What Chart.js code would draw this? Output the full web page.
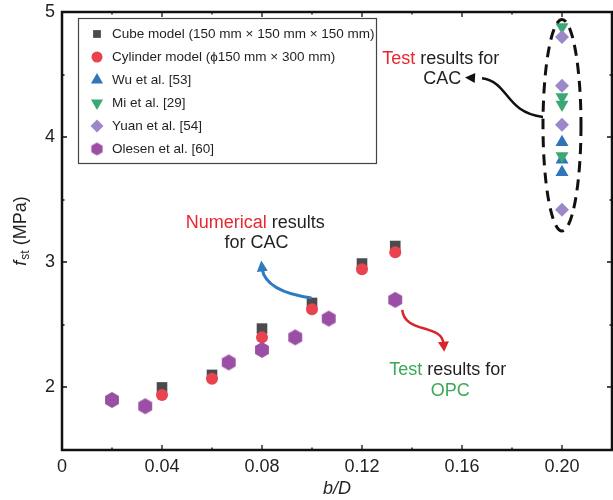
<!DOCTYPE html>
<html><head><meta charset="utf-8">
<script src="https://cdn.jsdelivr.net/npm/chart.js@4/dist/chart.umd.min.js"></script>
<style>html,body{margin:0;padding:0;background:#fff;overflow:hidden}#wrap{width:613px;height:500px;}canvas{display:block}</style>
</head><body><div id="wrap"><canvas id="c" width="613" height="500"></canvas></div>
<script>
// ---- data ----
const cubeX = [0.04, 0.06, 0.08, 0.10, 0.12, 0.1333];
const cubeY = [2.00, 2.10, 2.47, 2.675, 2.99, 3.13];
const cylX = [0.04, 0.06, 0.08, 0.10, 0.12, 0.1333];
const cylY = [1.94, 2.07, 2.40, 2.625, 2.945, 3.08];
const wuX = [0.20, 0.20, 0.20];
const wuY = [3.96, 3.82, 3.72];
const miX = [0.20, 0.20, 0.20, 0.20];
const miY = [4.88, 4.32, 4.26, 3.85];
const yuanX = [0.20, 0.20, 0.20, 0.20];
const yuanY = [4.80, 4.41, 4.10, 3.42];
const olesenX = [0.02, 0.0333, 0.0667, 0.08, 0.0933, 0.1067, 0.1333];
const olesenY = [1.90, 1.85, 2.20, 2.30, 2.40, 2.55, 2.70];
const seriesLabels = [
  'Cube model (150 mm \u00d7 150 mm \u00d7 150 mm)',
  'Cylinder model (\u03d5150 mm \u00d7 300 mm)',
  'Wu et al. [53]',
  'Mi et al. [29]',
  'Yuan et al. [54]',
  'Olesen et al. [60]'
];
const xTickValues = [0, 0.04, 0.08, 0.12, 0.16, 0.20];
const xTickLabels = ['0', '0.04', '0.08', '0.12', '0.16', '0.20'];
const yTickValues = [2, 3, 4, 5];
const yTickLabels = ['2', '3', '4', '5'];

// ---- styles ----
const C_CUBE = '#4b4b4d', C_CYL = '#e8434f', C_WU = '#2f76b9', C_MI = '#3aa874',
      C_YUAN = '#9c88c8', C_OLE = '#9a4fa4', TXT = '#231f20';
const FONT = '"Liberation Sans", Arial, Helvetica, sans-serif';

function makeHex(r, color) {
  const s = Math.ceil(2 * r) + 2;
  const c = document.createElement('canvas');
  c.width = s; c.height = s;
  const g = c.getContext('2d');
  g.fillStyle = color;
  g.beginPath();
  for (let k = 0; k < 6; k++) {
    const a = -Math.PI / 2 + k * Math.PI / 3;
    const px = s / 2 + r * Math.cos(a), py = s / 2 + r * Math.sin(a);
    k ? g.lineTo(px, py) : g.moveTo(px, py);
  }
  g.closePath(); g.fill();
  return c;
}
const hexBig = makeHex(8, C_OLE);
const hexSmall = makeHex(6.5, C_OLE);

const pts = (xs, ys) => xs.map((x, i) => ({ x: x, y: ys[i] }));

const datasets = [
  { label: seriesLabels[0], data: pts(cubeX, cubeY), pointStyle: 'rect', pointRadius: 7.5, backgroundColor: C_CUBE, borderColor: C_CUBE, pointBorderWidth: 0, order: 3,
    legend: { style: 'rect', r: 5.5 } },
  { label: seriesLabels[1], data: pts(cylX, cylY), pointStyle: 'circle', pointRadius: 6, backgroundColor: C_CYL, borderColor: C_CYL, pointBorderWidth: 0, order: 2,
    legend: { style: 'circle', r: 5.5 } },
  { label: seriesLabels[2], data: pts(wuX, wuY), pointStyle: 'triangle', pointRadius: 7.5, backgroundColor: C_WU, borderColor: C_WU, pointBorderWidth: 0, order: 5,
    legend: { style: 'triangle', r: 7 } },
  { label: seriesLabels[3], data: pts(miX, miY), pointStyle: 'triangle', pointRotation: 180, pointRadius: 7.5, backgroundColor: C_MI, borderColor: C_MI, pointBorderWidth: 0, order: 4,
    legend: { style: 'triangle', r: 7, rot: 180 } },
  { label: seriesLabels[4], data: pts(yuanX, yuanY), pointStyle: 'rectRot', pointRadius: 7, backgroundColor: C_YUAN, borderColor: C_YUAN, pointBorderWidth: 0, order: 1,
    legend: { style: 'rectRot', r: 6.5 } },
  { label: seriesLabels[5], data: pts(olesenX, olesenY), pointStyle: hexBig, pointRadius: 8, backgroundColor: C_OLE, borderColor: C_OLE, pointBorderWidth: 0, order: 0,
    legend: { style: hexSmall, r: 6.5 } }
];

function near(list, v) { return list.findIndex(t => Math.abs(t - v) < 1e-6); }

function drawMarker(ctx, style, r, rot, color, x, y) {
  ctx.save();
  ctx.fillStyle = color; ctx.strokeStyle = color;
  if (typeof style !== 'string') {
    ctx.drawImage(style, x - style.width / 2, y - style.height / 2);
  } else if (Chart.helpers && Chart.helpers.drawPoint) {
    Chart.helpers.drawPoint(ctx, { pointStyle: style, rotation: rot || 0, radius: r, borderWidth: 0 }, x, y);
  }
  ctx.restore();
}

function arrowHead(ctx, tipX, tipY, fromX, fromY, len, half, color) {
  const a = Math.atan2(tipY - fromY, tipX - fromX);
  ctx.save();
  ctx.fillStyle = color;
  ctx.beginPath();
  ctx.moveTo(tipX, tipY);
  ctx.lineTo(tipX - len * Math.cos(a) + half * Math.sin(a), tipY - len * Math.sin(a) - half * Math.cos(a));
  ctx.lineTo(tipX - len * Math.cos(a) - half * Math.sin(a), tipY - len * Math.sin(a) + half * Math.cos(a));
  ctx.closePath(); ctx.fill();
  ctx.restore();
}

function richText(ctx, parts, x, y, align) {
  let w = 0;
  parts.forEach(p => { w += ctx.measureText(p[0]).width; });
  let cx = align === 'center' ? x - w / 2 : x;
  ctx.textAlign = 'left';
  parts.forEach(p => { ctx.fillStyle = p[1]; ctx.fillText(p[0], cx, y); cx += ctx.measureText(p[0]).width; });
}

const framePlugin = {
  id: 'frame',
  beforeDatasetsDraw(chart) {
    const { ctx, chartArea: a, scales } = chart;
    const xs = scales.x, ys = scales.y;
    ctx.save();
    ctx.strokeStyle = '#111';
    ctx.lineWidth = 1.3;
    for (let v = 0.02; v < 0.219; v += 0.02) {
      const px = Math.round(xs.getPixelForValue(v));
      const major = Math.abs(Math.round(v * 100) % 4) === 0;
      const L = major ? 5 : 2.5;
      ctx.beginPath();
      ctx.moveTo(px, a.bottom); ctx.lineTo(px, a.bottom - L);
      ctx.moveTo(px, a.top); ctx.lineTo(px, a.top + L);
      ctx.stroke();
    }
    for (let v = 2; v < 5; v += 0.5) {
      const py = Math.round(ys.getPixelForValue(v));
      const major = Math.abs(v - Math.round(v)) < 1e-6;
      const L = major ? 5 : 2.5;
      ctx.beginPath();
      ctx.moveTo(a.left, py); ctx.lineTo(a.left + L, py);
      ctx.moveTo(a.right, py); ctx.lineTo(a.right - L, py);
      ctx.stroke();
    }
    ctx.lineWidth = 2.5;
    ctx.strokeRect(a.left, a.top, a.right - a.left, a.bottom - a.top);
    ctx.restore();
  },
  afterDraw(chart) {
    const { ctx, chartArea: a, scales } = chart;
    const X = v => scales.x.getPixelForValue(v), Y = v => scales.y.getPixelForValue(v);
    ctx.save();
    ctx.fillStyle = TXT;
    ctx.textBaseline = 'middle';
    ctx.font = 'italic 18px ' + FONT;
    ctx.textAlign = 'center';
    ctx.fillText('b/D', (a.left + a.right) / 2, 489);
    ctx.save();
    ctx.translate(21, (a.top + a.bottom) / 2);
    ctx.rotate(-Math.PI / 2);
    ctx.font = 'italic 18px ' + FONT;
    const wf = ctx.measureText('f').width;
    ctx.font = '12px ' + FONT;
    const ws = ctx.measureText('st').width;
    ctx.font = '18px ' + FONT;
    const wm = ctx.measureText(' (MPa)').width;
    let sx = -(wf + ws + 1 + wm) / 2;
    ctx.textAlign = 'left';
    ctx.font = 'italic 18px ' + FONT; ctx.fillText('f', sx, 0); sx += wf + 1;
    ctx.font = '12px ' + FONT; ctx.fillText('st', sx, 5); sx += ws;
    ctx.font = '18px ' + FONT; ctx.fillText(' (MPa)', sx, 0);
    ctx.restore();

    // legend
    const L = { x: 78, y: 18, w: 298, h: 145, row: 23, first: 34 };
    ctx.lineWidth = 1.2; ctx.strokeStyle = '#444';
    ctx.strokeRect(L.x + 0.5, L.y + 0.5, L.w, L.h);
    ctx.font = '13.5px ' + FONT;
    ctx.textBaseline = 'middle';
    ctx.textAlign = 'left';
    chart.data.datasets.forEach((ds, i) => {
      const cy = L.first + i * L.row;
      drawMarker(ctx, ds.legend.style, ds.legend.r, ds.legend.rot, ds.backgroundColor, 97, cy);
      ctx.fillStyle = TXT;
      ctx.fillText(ds.label, 112, cy);
    });

    // dashed ellipse
    ctx.save();
    ctx.strokeStyle = '#111'; ctx.lineWidth = 3; ctx.setLineDash([11, 7]);
    ctx.beginPath();
    const ecx = X(0.20), ecy = (Y(4.94) + Y(3.25)) / 2;
    ctx.ellipse(ecx, ecy, X(0.2076) - X(0.20), (Y(3.25) - Y(4.94)) / 2, 0, 0, Math.PI * 2);
    ctx.stroke();
    ctx.restore();

    // black arrow
    ctx.lineWidth = 2.5; ctx.strokeStyle = '#111';
    ctx.beginPath();
    ctx.moveTo(X(0.1924), Y(4.161));
    ctx.bezierCurveTo(X(0.1770), Y(4.20), X(0.1790), Y(4.44), X(0.1680), Y(4.470));
    ctx.stroke();
    arrowHead(ctx, X(0.1612), Y(4.477), X(0.1690), Y(4.468), 10, 5, '#111');

    // blue arrow
    ctx.strokeStyle = '#2e7bbf'; ctx.lineWidth = 3;
    ctx.beginPath();
    ctx.moveTo(X(0.0998), Y(2.715));
    ctx.quadraticCurveTo(X(0.0815), Y(2.765), X(0.0800), Y(2.95));
    ctx.stroke();
    arrowHead(ctx, X(0.0797), Y(3.015), X(0.0801), Y(2.93), 11, 5.5, '#2e7bbf');

    // red arrow
    ctx.strokeStyle = '#d8262c'; ctx.lineWidth = 2.5;
    ctx.beginPath();
    ctx.moveTo(X(0.1361), Y(2.619));
    ctx.bezierCurveTo(X(0.1369), Y(2.43), X(0.1520), Y(2.51), X(0.1526), Y(2.35));
    ctx.stroke();
    arrowHead(ctx, X(0.1529), Y(2.285), X(0.1526), Y(2.36), 10, 5.5, '#d8262c');

    // annotation texts
    ctx.font = '18px ' + FONT;
    ctx.textBaseline = 'middle';
    richText(ctx, [['Test', '#e8262e'], [' results for', TXT]], X(0.1281), Y(4.624), 'left');
    richText(ctx, [['CAC', TXT]], X(0.1521), Y(4.465), 'center');
    richText(ctx, [['Numerical', '#e8262e'], [' results', TXT]], X(0.0495), Y(3.314), 'left');
    richText(ctx, [['for CAC', TXT]], X(0.0778), Y(3.154), 'center');
    richText(ctx, [['Test', '#3aaa55'], [' results for', TXT]], X(0.1309), Y(2.139), 'left');
    richText(ctx, [['OPC', '#3aaa55']], X(0.1553), Y(1.971), 'center');
    ctx.restore();
  }
};

function noPad(s) { s.paddingTop = 0; s.paddingBottom = 0; s.paddingLeft = 0; s.paddingRight = 0; }

new Chart(document.getElementById('c'), {
  type: 'scatter',
  data: { datasets: datasets },
  options: {
    responsive: false,
    animation: false,
    devicePixelRatio: 1,
    events: [],
    layout: { autoPadding: false, padding: { top: 12, right: 1, left: 0, bottom: 0 } },
    plugins: { legend: { display: false }, tooltip: { enabled: false } },
    scales: {
      x: {
        type: 'linear', min: 0, max: 0.22,
        grid: { display: false, drawTicks: false },
        border: { display: false },
        ticks: {
          stepSize: 0.02, autoSkip: false, maxRotation: 0, padding: 6,
          color: TXT, font: { family: FONT, size: 18 },
          callback: v => { const i = near(xTickValues, v); return i >= 0 ? xTickLabels[i] : ''; }
        },
        afterFit: s => { s.height = 50; noPad(s); }
      },
      y: {
        type: 'linear', min: 1.5, max: 5,
        grid: { display: false, drawTicks: false },
        border: { display: false },
        ticks: {
          stepSize: 0.5, autoSkip: false, padding: 7,
          color: TXT, font: { family: FONT, size: 18 },
          callback: v => { const i = near(yTickValues, v); return i >= 0 ? yTickLabels[i] : ''; }
        },
        afterFit: s => { s.width = 62; noPad(s); }
      }
    }
  },
  plugins: [framePlugin]
});
</script>
</body></html>
